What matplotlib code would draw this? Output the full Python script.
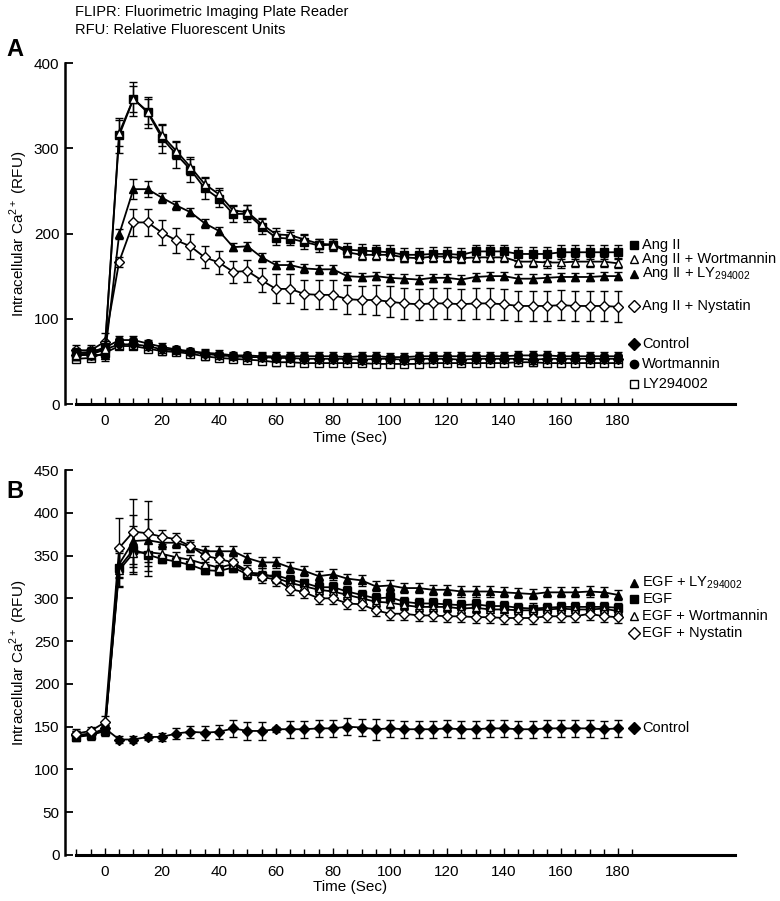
import numpy as np
import matplotlib
matplotlib.use('Agg')
import matplotlib.pyplot as plt

plt.rcParams['font.family'] = ['Liberation Sans', 'DejaVu Sans']
plt.rcParams['font.size'] = 11

# sampling times (sec)
times = [-10, -5, 0, 5, 10, 15, 20, 25, 30, 35, 40, 45, 50, 55, 60, 65, 70, 75, 80,
         85, 90, 95, 100, 105, 110, 115, 120, 125, 130, 135, 140, 145, 150, 155, 160,
         165, 170, 175, 180]

# ---- panel A ----
angii = [60, 61, 66, 315, 358, 342, 312, 293, 275, 253, 241, 223, 223, 208, 195, 194, 190, 186, 187,
         181, 180, 179, 178, 175, 175, 176, 176, 175, 179, 179, 179, 176, 176, 176, 178, 178, 178, 178, 178]
angii_err = [6, 6, 8, 20, 20, 18, 17, 16, 15, 12, 10, 9, 10, 9, 8, 8, 8, 8, 7,
             8, 8, 8, 8, 8, 8, 8, 8, 8, 8, 8, 8, 8, 8, 8, 8, 8, 8, 8, 8]
angii_wort = [58, 59, 64, 318, 358, 343, 315, 297, 278, 258, 246, 227, 225, 211, 199, 198, 193, 188, 187,
              178, 175, 175, 175, 172, 171, 173, 173, 171, 172, 172, 172, 167, 167, 166, 166, 167, 167, 167, 165]
angii_wort_err = [6, 6, 8, 15, 15, 15, 12, 10, 9, 8, 7, 7, 8, 7, 7, 6, 6, 6, 6,
                  6, 6, 6, 6, 6, 6, 6, 6, 6, 6, 6, 6, 6, 6, 6, 6, 6, 6, 6, 6]
angii_ly = [57, 58, 57, 199, 252, 252, 242, 233, 225, 212, 203, 184, 185, 172, 163, 163, 159, 158, 158,
            150, 149, 150, 148, 147, 146, 148, 148, 146, 149, 150, 150, 147, 147, 148, 149, 149, 149, 150, 150]
angii_ly_err = [5, 5, 6, 6, 12, 9, 6, 5, 5, 5, 5, 5, 5, 5, 5, 5, 5, 5, 5,
                5, 5, 5, 5, 5, 5, 5, 5, 5, 5, 5, 5, 5, 5, 5, 5, 5, 5, 5, 5]
angii_nys = [63, 63, 73, 167, 213, 213, 201, 192, 185, 172, 166, 155, 156, 145, 135, 135, 129, 128, 128,
             123, 122, 122, 120, 118, 117, 118, 118, 117, 118, 118, 117, 115, 115, 115, 116, 115, 115, 115, 114]
angii_nys_err = [6, 6, 10, 6, 16, 16, 15, 15, 15, 13, 13, 13, 13, 14, 17, 17, 17, 17, 17,
                 17, 17, 18, 18, 18, 18, 18, 18, 18, 18, 18, 18, 18, 18, 18, 18, 18, 18, 18, 18]
ctrl_a = [57, 58, 64, 70, 70, 68, 64, 63, 61, 59, 57, 56, 55, 55, 54, 54, 53, 53, 53,
          53, 52, 53, 53, 52, 53, 53, 53, 52, 53, 53, 53, 53, 52, 53, 53, 53, 53, 53, 53]
ctrl_a_err = [5, 5, 5, 5, 5, 5, 4, 4, 4, 4, 4, 4, 4, 5, 5, 5, 5, 5, 5,
              5, 5, 5, 5, 5, 5, 5, 5, 5, 5, 5, 5, 5, 5, 5, 5, 5, 5, 5, 5]
wort_a = [60, 60, 66, 75, 75, 71, 67, 64, 62, 60, 59, 57, 57, 56, 56, 56, 56, 56, 56,
          55, 56, 56, 55, 55, 56, 56, 56, 56, 56, 56, 56, 57, 57, 57, 56, 56, 56, 56, 56]
wort_a_err = [5, 5, 5, 5, 5, 4, 4, 4, 4, 4, 4, 4, 4, 5, 5, 5, 5, 5, 5,
              5, 5, 5, 5, 5, 5, 5, 5, 5, 5, 5, 5, 5, 5, 5, 5, 5, 5, 5, 5]
ly_a = [53, 54, 60, 68, 68, 65, 62, 61, 59, 56, 54, 53, 52, 51, 49, 49, 48, 48, 48,
        48, 48, 47, 47, 47, 47, 48, 48, 48, 48, 48, 48, 49, 49, 48, 48, 48, 48, 48, 48]
ly_a_err = [4, 4, 5, 4, 4, 4, 4, 4, 4, 4, 4, 4, 4, 4, 4, 4, 4, 4, 4,
            4, 4, 4, 4, 4, 4, 4, 4, 4, 4, 4, 4, 4, 4, 4, 4, 4, 4, 4, 4]

# ---- panel B ----
egf_ly = [140, 142, 146, 340, 367, 368, 365, 365, 360, 355, 355, 355, 347, 342, 342, 336, 332, 326, 328,
          323, 321, 314, 315, 312, 312, 310, 310, 308, 308, 308, 307, 306, 305, 307, 307, 307, 308, 307, 304]
egf_ly_err = [5, 5, 6, 15, 30, 25, 6, 6, 6, 6, 6, 6, 6, 6, 6, 6, 6, 6, 6,
              6, 6, 6, 6, 6, 6, 6, 6, 6, 6, 6, 6, 6, 6, 6, 6, 6, 6, 6, 6]
egf = [138, 140, 145, 336, 357, 351, 346, 343, 339, 333, 332, 336, 328, 326, 327, 322, 318, 313, 313,
       308, 304, 300, 301, 296, 294, 294, 293, 292, 293, 291, 291, 289, 288, 289, 290, 290, 290, 290, 289]
egf_err = [5, 5, 6, 22, 28, 25, 5, 5, 5, 5, 5, 5, 5, 5, 5, 5, 5, 6, 6,
           6, 6, 6, 6, 6, 6, 6, 6, 6, 6, 6, 6, 6, 6, 6, 6, 6, 6, 6, 6]
egf_wort = [139, 141, 146, 333, 353, 354, 352, 348, 345, 340, 336, 340, 330, 329, 324, 318, 314, 310, 308,
            304, 300, 296, 295, 292, 290, 290, 290, 288, 289, 287, 287, 286, 286, 287, 288, 287, 287, 288, 285]
egf_wort_err = [5, 5, 6, 20, 22, 22, 6, 6, 6, 6, 6, 6, 6, 6, 6, 6, 6, 6, 6,
                6, 6, 6, 6, 6, 6, 6, 6, 6, 6, 6, 6, 6, 6, 6, 6, 6, 6, 6, 6]
egf_nys = [142, 145, 155, 359, 378, 376, 372, 369, 361, 350, 346, 342, 332, 325, 322, 311, 307, 300, 300,
           294, 293, 286, 282, 282, 280, 280, 279, 279, 278, 278, 277, 277, 277, 279, 279, 279, 282, 279, 278]
egf_nys_err = [5, 5, 8, 35, 38, 38, 8, 7, 7, 7, 7, 7, 7, 7, 7, 7, 7, 7, 7,
               7, 7, 7, 7, 7, 7, 7, 7, 7, 7, 7, 7, 7, 7, 7, 7, 7, 7, 7, 7]
ctrl_b = [140, 141, 148, 135, 135, 138, 138, 142, 144, 143, 144, 148, 145, 145, 147, 147, 147, 148, 148,
          150, 149, 147, 148, 147, 147, 147, 148, 147, 147, 148, 148, 147, 147, 148, 148, 148, 148, 147, 148]
ctrl_b_err = [5, 5, 6, 4, 4, 4, 5, 6, 7, 8, 8, 10, 10, 10, 3, 10, 10, 10, 10,
              10, 10, 12, 10, 10, 10, 10, 10, 10, 10, 10, 10, 10, 10, 10, 10, 10, 10, 10, 10]


def series(ax, y, err, marker, filled, z):
    fc = 'black' if filled else 'white'
    ax.errorbar(times, y, yerr=err, color='black', lw=1.3, marker=marker, ms=5.5,
                mfc=fc, mec='black', mew=1, elinewidth=1, capsize=3, capthick=1,
                zorder=z, clip_on=False)


def legend_item(ax, y, marker, filled, label, xm=185.5, xt=188.5):
    fc = 'black' if filled else 'white'
    ax.plot([xm], [y], marker=marker, ms=6, mfc=fc, mec='black', mew=1,
            ls='none', clip_on=False)
    ax.text(xt, y, label, va='center', ha='left', fontsize=10.5)


def style_axes(ax, ymax, ystep, xlab_y):
    ax.set_xlim(-14, 221)
    ax.set_ylim(0, ymax)
    ax.spines['top'].set_visible(False)
    ax.spines['right'].set_visible(False)
    ax.spines['bottom'].set_bounds(-10, 221)
    ax.spines['bottom'].set_linewidth(2.2)
    ax.spines['left'].set_linewidth(1.8)
    ax.set_xticks(np.arange(0, 181, 20))
    ax.set_xticks(np.arange(-10, 186, 5), minor=True)
    ax.set_yticks(np.arange(0, ymax + 1, ystep))
    ax.tick_params(axis='x', which='both', direction='in', width=1, pad=7)
    ax.tick_params(axis='x', which='major', length=5)
    ax.tick_params(axis='x', which='minor', length=4)
    ax.tick_params(axis='y', direction='in', length=6, width=1.3, pad=4)
    ax.tick_params(labelsize=11)
    ax.set_xlabel('Time (Sec)', fontsize=11)
    ax.xaxis.set_label_coords(0.425, xlab_y)
    ax.set_ylabel('Intracellular Ca$^{\\mathregular{2+}}$ (RFU)', fontsize=11)
    ax.yaxis.set_label_coords(-0.052, 0.5)


fig = plt.figure(figsize=(7.8, 9.01), dpi=100)
axA = fig.add_axes([65 / 780, 1 - 404 / 901, 670 / 780, 341 / 901])
axB = fig.add_axes([65 / 780, 1 - 855 / 901, 670 / 780, 385 / 901])

series(axA, ly_a, ly_a_err, 's', False, 3)
series(axA, ctrl_a, ctrl_a_err, 'D', True, 4)
series(axA, wort_a, wort_a_err, 'o', True, 4)
series(axA, angii_nys, angii_nys_err, 'D', False, 5)
series(axA, angii_ly, angii_ly_err, '^', True, 5)
series(axA, angii, angii_err, 's', True, 6)
series(axA, angii_wort, angii_wort_err, '^', False, 7)
style_axes(axA, 400, 100, -27 / 341)

legend_item(axA, 186.5, 's', True, 'Ang II')
legend_item(axA, 170, '^', False, 'Ang II + Wortmannin')
legend_item(axA, 152.5, '^', True, 'Ang II + LY$_{\\mathregular{294002}}$')
legend_item(axA, 115, 'D', False, 'Ang II + Nystatin')
legend_item(axA, 70, 'D', True, 'Control')
legend_item(axA, 47, 'o', True, 'Wortmannin')
legend_item(axA, 23.5, 's', False, 'LY294002')

series(axB, ctrl_b, ctrl_b_err, 'D', True, 4)
series(axB, egf, egf_err, 's', True, 5)
series(axB, egf_wort, egf_wort_err, '^', False, 6)
series(axB, egf_ly, egf_ly_err, '^', True, 6)
series(axB, egf_nys, egf_nys_err, 'D', False, 7)
style_axes(axB, 450, 50, -25 / 385)

legend_item(axB, 318, '^', True, 'EGF + LY$_{\\mathregular{294002}}$')
legend_item(axB, 299, 's', True, 'EGF')
legend_item(axB, 279, '^', False, 'EGF + Wortmannin')
legend_item(axB, 259, 'D', False, 'EGF + Nystatin')
legend_item(axB, 148, 'D', True, 'Control')

fig.text(75 / 780, 1 - 12 / 901, 'FLIPR: Fluorimetric Imaging Plate Reader', fontsize=10.5, va='center')
fig.text(75 / 780, 1 - 30 / 901, 'RFU: Relative Fluorescent Units', fontsize=10.5, va='center')
fig.text(6 / 780, 1 - 49 / 901, 'A', fontsize=17, fontweight='bold', va='center')
fig.text(6 / 780, 1 - 492 / 901, 'B', fontsize=17, fontweight='bold', va='center')

fig.savefig('out.png', dpi=100)
